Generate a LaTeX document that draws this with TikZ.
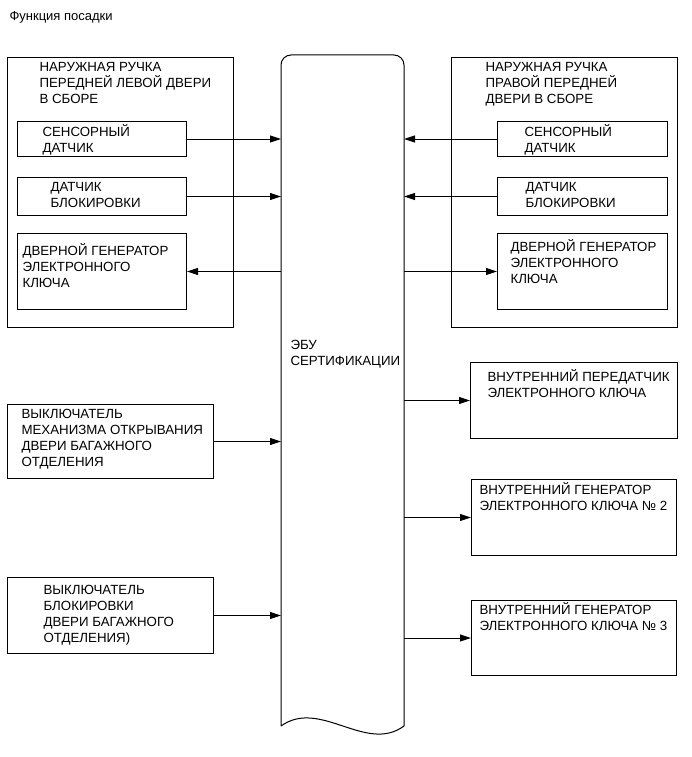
\documentclass[tikz,border=0pt]{standalone}
\usepackage{fontspec}
\setmainfont{Liberation Sans}
\usetikzlibrary{positioning, calc, arrows.meta}

\newcommand{\lblfont}{\fontsize{13.3}{16}\selectfont}
\newcommand{\ttlfont}{\fontsize{13}{15}\selectfont}

\tikzset{
  blk/.style={draw, rectangle, anchor=north west, inner sep=0pt},
  txt/.style={anchor=north west, inner sep=0pt, align=left, font=\lblfont, execute at begin node=\strut},
  arr/.style={-{Triangle[length=11pt, width=7pt]}},
}

\begin{document}
\begin{tikzpicture}[x=1pt, y=-1pt, line width=1pt]
\useasboundingbox (0,0) rectangle (691,757);

\node[txt, font=\ttlfont] (title) at (9,10) {Функция посадки};

% ECU column
\node[anchor=north west, inner sep=0pt, minimum width=122pt, minimum height=670pt] (ecu) at (281,55) {};
\draw (ecu.south west) -- ([yshift=-10pt]ecu.north west)
  arc[start angle=180, end angle=90, radius=10pt] -- ([xshift=-10pt]ecu.north east)
  arc[start angle=90, end angle=0, radius=10pt] -- (ecu.south east)
  .. controls ([xshift=-38pt, yshift=-28pt]ecu.south east) and ([xshift=39pt, yshift=28pt]ecu.south west) .. (ecu.south west);
\node[txt] (ecu-t) at ([shift={(9,285)}]ecu.north west) {ЭБУ\\СЕРТИФИКАЦИИ};

% left door handle
\node[blk, minimum width=226pt, minimum height=270pt] (lhandle) at (7,57) {};
\node[txt] (lhandle-t) at ([shift={(32,5)}]lhandle.north west) {НАРУЖНАЯ РУЧКА\\ПЕРЕДНЕЙ ЛЕВОЙ ДВЕРИ\\В СБОРЕ};
\node[blk, minimum width=169pt, minimum height=35pt] (lsens) at (17,121) {};
\node[txt] (lsens-t) at ([shift={(25,3)}]lsens.north west) {СЕНСОРНЫЙ\\ДАТЧИК};
\node[blk, minimum width=169pt, minimum height=38pt] (llock) at (17,177) {};
\node[txt] (llock-t) at ([shift={(33,5)}]llock.north west) {ДАТЧИК\\БЛОКИРОВКИ};
\node[blk, minimum width=169pt, minimum height=76pt] (lgen) at (17,233) {};
\node[txt] (lgen-t) at ([shift={(5,10)}]lgen.north west) {ДВЕРНОЙ ГЕНЕРАТОР\\ЭЛЕКТРОННОГО\\КЛЮЧА};

% right door handle
\node[blk, minimum width=226pt, minimum height=270pt] (rhandle) at (451,57) {};
\node[txt] (rhandle-t) at ([shift={(34,5)}]rhandle.north west) {НАРУЖНАЯ РУЧКА\\ПРАВОЙ ПЕРЕДНЕЙ\\ДВЕРИ В СБОРЕ};
\node[blk, minimum width=170pt, minimum height=35pt] (rsens) at (497,121) {};
\node[txt] (rsens-t) at ([shift={(27,3)}]rsens.north west) {СЕНСОРНЫЙ\\ДАТЧИК};
\node[blk, minimum width=170pt, minimum height=38pt] (rlock) at (497,177) {};
\node[txt] (rlock-t) at ([shift={(28,5)}]rlock.north west) {ДАТЧИК\\БЛОКИРОВКИ};
\node[blk, minimum width=170pt, minimum height=76pt] (rgen) at (497,233) {};
\node[txt] (rgen-t) at ([shift={(13,6)}]rgen.north west) {ДВЕРНОЙ ГЕНЕРАТОР\\ЭЛЕКТРОННОГО\\КЛЮЧА};

% interior
\node[blk, minimum width=207pt, minimum height=76pt] (intx) at (470,362) {};
\node[txt] (intx-t) at ([shift={(17,7)}]intx.north west) {ВНУТРЕННИЙ ПЕРЕДАТЧИК\\ЭЛЕКТРОННОГО КЛЮЧА};
\node[blk, minimum width=205pt, minimum height=76pt] (int2) at (471,479) {};
\node[txt] (int2-t) at ([shift={(8,3)}]int2.north west) {ВНУТРЕННИЙ ГЕНЕРАТОР\\ЭЛЕКТРОННОГО КЛЮЧА № 2};
\node[blk, minimum width=205pt, minimum height=75pt] (int3) at (471,600) {};
\node[txt] (int3-t) at ([shift={(8,2)}]int3.north west) {ВНУТРЕННИЙ ГЕНЕРАТОР\\ЭЛЕКТРОННОГО КЛЮЧА № 3};

% trunk
\node[blk, minimum width=206pt, minimum height=74pt] (trunkopen) at (7,404) {};
\node[txt] (trunkopen-t) at ([shift={(14,5)}]trunkopen.north west) {ВЫКЛЮЧАТЕЛЬ\\МЕХАНИЗМА ОТКРЫВАНИЯ\\ДВЕРИ БАГАЖНОГО\\ОТДЕЛЕНИЯ};
\node[blk, minimum width=206pt, minimum height=76pt] (trunklock) at (7,577) {};
\node[txt] (trunklock-t) at ([shift={(36,8)}]trunklock.north west) {ВЫКЛЮЧАТЕЛЬ\\БЛОКИРОВКИ\\ДВЕРИ БАГАЖНОГО\\ОТДЕЛЕНИЯ)};

% connectors
\draw[arr] (lsens.east) -- (lsens.east -| ecu.west);
\draw[arr] (llock.east) -- (llock.east -| ecu.west);
\draw[arr] (lgen.east -| ecu.west) -- (lgen.east);
\draw[arr] (rsens.west) -- (rsens.west -| ecu.east);
\draw[arr] (rlock.west) -- (rlock.west -| ecu.east);
\draw[arr] (rgen.west -| ecu.east) -- (rgen.west);
\draw[arr] (intx.west -| ecu.east) -- (intx.west);
\draw[arr] (int2.west -| ecu.east) -- (int2.west);
\draw[arr] (int3.west -| ecu.east) -- (int3.west);
\draw[arr] (trunkopen.east) -- (trunkopen.east -| ecu.west);
\draw[arr] (trunklock.east) -- (trunklock.east -| ecu.west);
\end{tikzpicture}
\end{document}
